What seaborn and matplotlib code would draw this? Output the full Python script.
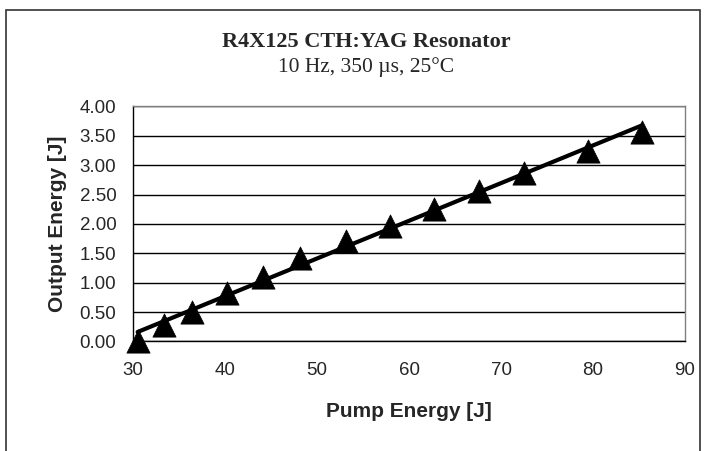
import numpy as np
import pandas as pd
import matplotlib
matplotlib.use('Agg')
import matplotlib.pyplot as plt
import matplotlib.patches as patches
import seaborn as sns

# Values
pump_energy = [30.5, 33.4, 36.4, 40.2, 44.1, 48.2, 53.1, 57.9, 62.7, 67.6, 72.5, 79.4, 85.3]
output_energy = [0.01, 0.28, 0.50, 0.82, 1.10, 1.42, 1.71, 1.96, 2.25, 2.56, 2.87, 3.25, 3.57]
x_ticks = [30, 40, 50, 60, 70, 80, 90]
y_ticks = [0.0, 0.5, 1.0, 1.5, 2.0, 2.5, 3.0, 3.5, 4.0]

title = 'R4X125 CTH:YAG Resonator'
subtitle = '10 Hz, 350 \u00b5s, 25\u00b0C'

df = pd.DataFrame({'pump': pump_energy, 'output': output_energy})

sns.set_style('white')
plt.rcParams['font.family'] = ['Liberation Sans', 'DejaVu Sans']

fig = plt.figure(figsize=(7.05, 4.51), dpi=100)
ax = fig.add_axes([0.1887, 0.2428, 0.7830, 0.5211])

# Linear trendline over the data range, then the triangle markers
sns.regplot(data=df, x='pump', y='output', ax=ax, scatter=False, ci=None,
            truncate=True, color='black', line_kws={'lw': 3, 'zorder': 3})
sns.scatterplot(data=df, x='pump', y='output', ax=ax, marker='^', s=280,
                color='black', edgecolor='black', linewidth=0.5, zorder=4,
                legend=False, clip_on=False)

ax.set_xlim(30, 90)
ax.set_ylim(0, 4)
ax.set_xticks(x_ticks)
ax.set_yticks(y_ticks)
ax.set_yticklabels([f'{v:.2f}' for v in y_ticks])
ax.tick_params(axis='both', direction='out', length=5, width=1, color='black',
               labelsize=13.5)
ax.tick_params(axis='x', pad=10)
ax.tick_params(axis='y', pad=7)
ax.yaxis.grid(True, color='black', lw=1)
ax.xaxis.grid(False)
ax.set_axisbelow(True)

for side in ['left', 'bottom']:
    ax.spines[side].set_color('black')
    ax.spines[side].set_linewidth(1)
for side in ['top', 'right']:
    ax.spines[side].set_color('#808080')
    ax.spines[side].set_linewidth(1)

ax.set_xlabel('Pump Energy [J]', fontsize=15, fontweight='bold', labelpad=16)
ax.set_ylabel('Output Energy [J]', fontsize=15, fontweight='bold')
ax.yaxis.set_label_coords(-0.12, 0.5)

fig.text(0.519, 0.895, title, ha='center', va='baseline', fontsize=16,
         fontweight='bold', family=['Liberation Serif', 'DejaVu Serif'])
fig.text(0.519, 0.841, subtitle, ha='center', va='baseline', fontsize=15.5,
         family=['Liberation Serif', 'DejaVu Serif'])

# Chart border (cut off at the bottom in the reference)
border = patches.Rectangle((6 / 705, -0.1), 694 / 705, 1.1 - 10 / 451,
                           transform=fig.transFigure, fill=False,
                           edgecolor='#333333', lw=1.2, clip_on=False)
fig.patches.append(border)

fig.savefig('out.png', dpi=100)
